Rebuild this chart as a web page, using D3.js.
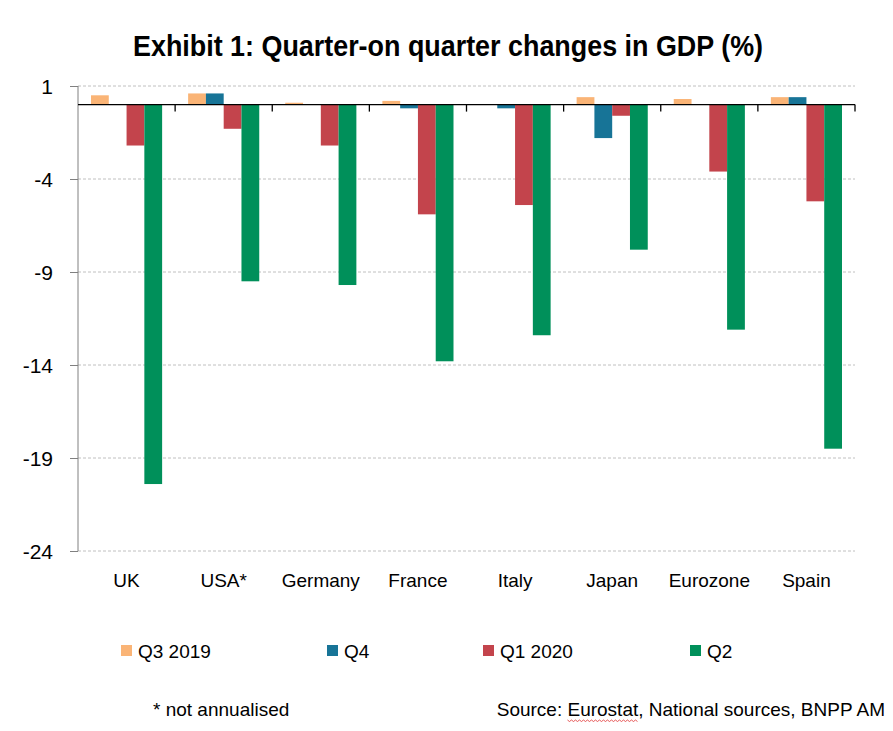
<!DOCTYPE html>
<html>
<head>
<meta charset="utf-8">
<script src="https://cdn.jsdelivr.net/npm/d3@7"></script>
<style>
  body { margin: 0; background: #fff; }
  text { font-family: "Liberation Sans", Arial, sans-serif; fill: #000; }
</style>
</head>
<body>
<div id="chart"></div>
<script>
const width = 893;
const height = 731;

const countries = ["UK", "USA*", "Germany", "France", "Italy", "Japan", "Eurozone", "Spain"];
const seriesNames = ["Q3 2019", "Q4", "Q1 2020", "Q2"];
const colors = ["#fab476", "#177497", "#c3444c", "#00905a"];

const q3_2019 = [0.5, 0.6, 0.1, 0.2, 0.0, 0.4, 0.3, 0.4];
const q4_2019 = [0.0, 0.6, 0.0, -0.2, -0.2, -1.8, 0.0, 0.4];
const q1_2020 = [-2.2, -1.3, -2.2, -5.9, -5.4, -0.6, -3.6, -5.2];
const q2_2020 = [-20.4, -9.5, -9.7, -13.8, -12.4, -7.8, -12.1, -18.5];

const yTicks = [1, -4, -9, -14, -19, -24];

const series = [q3_2019, q4_2019, q1_2020, q2_2020];

const svg = d3.select("#chart")
    .append("svg")
    .attr("width", width)
    .attr("height", height);

const x = d3.scaleBand()
    .domain(countries)
    .range([78, 855]);

const x1 = d3.scaleBand()
    .domain(d3.range(4))
    .range([13, x.bandwidth() - 13]);

const y = d3.scaleLinear()
    .domain([-24, 1])
    .range([551, 86]);

// title (narrow bold look)
svg.append("text")
    .attr("x", 448)
    .attr("y", 56)
    .attr("text-anchor", "middle")
    .attr("textLength", 630)
    .attr("lengthAdjust", "spacingAndGlyphs")
    .style("font-weight", "bold")
    .style("font-size", "30px")
    .text("Exhibit 1: Quarter-on quarter changes in GDP (%)");

// gridlines
svg.append("g")
    .selectAll("line")
    .data(yTicks)
    .join("line")
    .attr("x1", 78)
    .attr("x2", 855)
    .attr("y1", d => y(d))
    .attr("y2", d => y(d))
    .attr("stroke", "#c0c0c0")
    .attr("stroke-width", 1)
    .attr("stroke-dasharray", "3,2");

// y axis
const yAxis = svg.append("g")
    .attr("transform", "translate(78,0)")
    .call(d3.axisLeft(y).tickValues(yTicks).tickSize(8).tickPadding(17).tickFormat(d => String(d)));
yAxis.select(".domain").attr("stroke", "#808080").attr("d", `M0,${y(1)}V${y(-24)}`);
yAxis.selectAll(".tick line").attr("stroke", "#808080");
yAxis.selectAll(".tick text")
    .style("font-size", "21px")
    .style("font-family", "'Liberation Sans', Arial, sans-serif")
    .attr("dy", "0.35em");

// bars
const groups = svg.append("g")
    .selectAll("g")
    .data(countries)
    .join("g")
    .attr("transform", d => `translate(${x(d)},0)`);

groups.selectAll("rect")
    .data((c, i) => series.map((s, k) => ({ k, v: s[i] })))
    .join("rect")
    .attr("x", d => x1(d.k))
    .attr("width", x1.bandwidth())
    .attr("y", d => y(Math.max(0, d.v)))
    .attr("height", d => Math.abs(y(d.v) - y(0)))
    .attr("fill", d => colors[d.k]);

// zero axis with category ticks
const xAxis = svg.append("g")
    .attr("transform", `translate(0,${y(0)})`);
xAxis.append("line")
    .attr("x1", 78)
    .attr("x2", 855)
    .attr("stroke", "#000")
    .attr("stroke-width", 1.3);
xAxis.selectAll("line.tk")
    .data(countries)
    .join("line")
    .attr("class", "tk")
    .attr("x1", d => x(d) + x.bandwidth())
    .attr("x2", d => x(d) + x.bandwidth())
    .attr("y1", 0)
    .attr("y2", 7)
    .attr("stroke", "#000")
    .attr("stroke-width", 1.3);

// category labels
svg.append("g")
    .selectAll("text")
    .data(countries)
    .join("text")
    .attr("x", d => x(d) + x.bandwidth() / 2)
    .attr("y", 587)
    .attr("text-anchor", "middle")
    .style("font-size", "19px")
    .text(d => d);

// legend
const legendX = [121, 327, 483, 690];
const legend = svg.append("g")
    .selectAll("g")
    .data(seriesNames)
    .join("g")
    .attr("transform", (d, i) => `translate(${legendX[i]},645)`);
legend.append("rect")
    .attr("width", 11)
    .attr("height", 11)
    .attr("fill", (d, i) => colors[i]);
legend.append("text")
    .attr("x", 17)
    .attr("y", 13)
    .style("font-size", "19px")
    .text(d => d);

// footer
svg.append("text")
    .attr("x", 153)
    .attr("y", 716)
    .style("font-size", "19px")
    .text("* not annualised");

const src = svg.append("text")
    .attr("x", 885)
    .attr("y", 716)
    .attr("text-anchor", "end")
    .style("font-size", "19px")
    .text("Source: Eurostat, National sources, BNPP AM");

// spell-check squiggle under "Eurostat"
const node = src.node();
const bb = node.getBBox();
const s0 = bb.x + node.getSubStringLength(0, 8);
const sw = node.getSubStringLength(8, 8);
const zig = d3.range(0, Math.floor(sw / 2) + 1).map(i => [s0 + i * 2, 720 + (i % 2 ? 1.5 : 0)]);
svg.append("path")
    .attr("d", d3.line()(zig))
    .attr("fill", "none")
    .attr("stroke", "#e03030")
    .attr("stroke-width", 0.8);
</script>
</body>
</html>
